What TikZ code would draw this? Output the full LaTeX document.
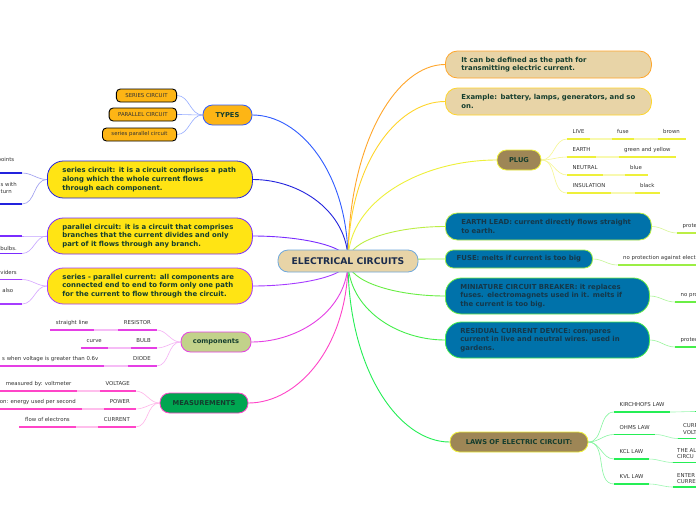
\documentclass[tikz,border=0pt]{standalone}
\usepackage{fontspec}
\setmainfont{DejaVu Sans}
\usetikzlibrary{calc,backgrounds}

\definecolor{tan}{HTML}{E8D4A7}
\definecolor{hubline}{HTML}{6FA8DC}
\definecolor{hubtext}{HTML}{1A2B4C}
\definecolor{txtgreen}{HTML}{143D2E}
\definecolor{bluetext}{HTML}{15384A}
\definecolor{orng}{HTML}{FDB515}
\definecolor{yel}{HTML}{FFE414}
\definecolor{olive}{HTML}{C2D28A}
\definecolor{grn}{HTML}{00A651}
\definecolor{brn}{HTML}{9E8656}
\definecolor{blu}{HTML}{0072AA}
\definecolor{leafgray}{HTML}{333333}
% branch colours
\definecolor{cTypes}{HTML}{2F5BFF}
\definecolor{cSer}{HTML}{2323DD}
\definecolor{cPar}{HTML}{7A2CFF}
\definecolor{cSp}{HTML}{A63CFF}
\definecolor{cComp}{HTML}{E53FE5}
\definecolor{cMeas}{HTML}{FF45C8}
\definecolor{cDef}{HTML}{FFA62B}
\definecolor{cEx}{HTML}{FFD52B}
\definecolor{cPlug}{HTML}{EEF03A}
\definecolor{cEl}{HTML}{BCEE45}
\definecolor{cFuse}{HTML}{9BEE45}
\definecolor{cMcb}{HTML}{6AEE45}
\definecolor{cRcd}{HTML}{45EE4A}
\definecolor{cLaw}{HTML}{25EE55}

\tikzset{
  hub/.style={draw=hubline, fill=tan, line width=0.8, rounded corners=10,
    minimum width=140, minimum height=22, inner sep=0, text=hubtext,
    font=\bfseries\fontsize{9.2}{10}\selectfont},
  bubble/.style={line width=0.8, inner ysep=0, text=txtgreen, align=left,
    font=\bfseries\fontsize{6.9}{8.7}\selectfont},
  pill/.style={bubble, rounded corners=9.5, minimum height=20, inner xsep=0,
    align=center, font=\bfseries\fontsize{6.7}{8}\selectfont},
  tbox/.style={fill=orng, draw=black, line width=0.9, rounded corners=4,
    minimum height=13, inner xsep=9, inner ysep=0, text=leafgray,
    font=\fontsize{5.4}{6}\selectfont},
  leaf/.style={font=\fontsize{5.4}{6.8}\selectfont, text=leafgray, inner xsep=5.5,
    inner ysep=0, text height=3.9, text depth=5,
    append after command={(\tikzlastnode.south west) edge[draw=#1, line width=1.6]
      (\tikzlastnode.south east)}},
  cut/.style={font=\fontsize{5.4}{6.8}\selectfont, text=leafgray, inner sep=0},
  ul/.style={line width=1.6},
  limb/.style={line width=0.9, to path={.. controls
    ($(\tikztostart)!.6!(\tikztostart|-\tikztotarget)$) and
    ($(\tikztotarget)!.5!(\tikztostart|-\tikztotarget)$) .. (\tikztotarget)}},
  twigL/.style={line width=0.6, out=180, in=0},
  twigR/.style={line width=0.6, out=0, in=180},
}

\begin{document}
\begin{tikzpicture}[x=1pt,y=-1pt]
  \useasboundingbox (0,0) rectangle (696,520);

  % centre
  \node[hub] (ec) at (348,261) {ELECTRICAL CIRCUITS};

  % left side
  \node[pill, fill=orng, draw=cTypes, minimum width=49] (types) at (227.5,115) {TYPES};
  \node[tbox, anchor=east] (ser) at (177,95.5) {SERIES CIRCUIT};
  \node[tbox, anchor=east] (par) at (177,114.5) {PARALLEL CIRCUIT};
  \node[tbox, anchor=east] (serpar) at (177,134.5) {series parallel circuit};

  \node[bubble, fill=yel, draw=cSer, rounded corners=16, minimum height=37,
    text width=175, inner xsep=15, anchor=west] (serc) at (47,179.5)
    {series circuit: it is a circuit comprises a path\\along which the whole current flows\\through each component.};
  \node[bubble, fill=yel, draw=cPar, rounded corners=16, minimum height=36,
    text width=175, inner xsep=15, anchor=west] (parc) at (47,236)
    {parallel circuit: it is a circuit that comprises\\branches that the current divides and only\\part of it flows through any branch.};
  \node[bubble, fill=yel, draw=cSp, rounded corners=16, minimum height=36,
    text width=175, inner xsep=15, anchor=west] (spc) at (47,286)
    {series - parallel current: all components are\\connected end to end to form only one path\\for the current to flow through the circuit.};

  \node[pill, fill=olive, draw=cComp, minimum width=70] (comp) at (216,342) {components};
  \node[pill, fill=grn, draw=cMeas, minimum width=88] (meas) at (204,403) {MEASUREMENTS};

  % right side
  \node[bubble, fill=tan, draw=cDef, rounded corners=12, minimum height=27,
    text width=174, inner xsep=16, anchor=west] (def) at (445,64.5)
    {It can be defined as the path for\\transmitting electric current.};
  \node[bubble, fill=tan, draw=cEx, rounded corners=12, minimum height=27,
    text width=174, inner xsep=16, anchor=west] (ex) at (445,101.5)
    {Example: battery, lamps, generators, and so\\on.};
  \node[pill, fill=brn, draw=cPlug, minimum width=44] (plug) at (519,160) {PLUG};

  \node[bubble, fill=blu, draw=cEl, text=bluetext, rounded corners=12, minimum height=27,
    text width=174, inner xsep=16, anchor=west] (el) at (445,226.5)
    {EARTH LEAD: current directly flows straight\\to earth.};
  \node[bubble, fill=blu, draw=cFuse, text=bluetext, rounded corners=8, minimum height=18,
    minimum width=147, align=center, anchor=west] (fuse) at (445,259)
    {FUSE: melts if current is too big};
  \node[bubble, fill=blu, draw=cMcb, text=bluetext, rounded corners=16, minimum height=36,
    text width=174, inner xsep=15, anchor=west] (mcb) at (445,296)
    {MINIATURE CIRCUIT BREAKER: it replaces\\fuses. electromagnets used in it. melts if\\the current is too big.};
  \node[bubble, fill=blu, draw=cRcd, text=bluetext, rounded corners=16, minimum height=36,
    text width=174, inner xsep=15, anchor=west] (rcd) at (445,340)
    {RESIDUAL CURRENT DEVICE: compares\\current in live and neutral wires. used in\\gardens.};
  \node[pill, fill=brn, draw=cPlug, minimum width=138] (laws) at (519,442) {LAWS OF ELECTRIC CIRCUIT:};

  % leaves of components and measurements
  \node[leaf=cComp, anchor=south east] (res) at (156.5,330) {RESISTOR};
  \node[leaf=cComp, anchor=south east] (bulb) at (156.5,348) {BULB};
  \node[leaf=cComp, anchor=south east] (diode) at (156.5,366) {DIODE};
  \node[leaf=cComp, anchor=south east] (sline) at (94,330) {straight line};
  \node[leaf=cComp, anchor=south east] (curve) at (107.5,348) {curve};
  \node[leaf=cComp, anchor=south east] (gate) at (104,366) {s when voltage is greater than 0.6v};

  \node[leaf=cMeas, anchor=south east] (volt) at (135.5,391) {VOLTAGE};
  \node[leaf=cMeas, anchor=south east] (pow) at (135.5,409) {POWER};
  \node[leaf=cMeas, anchor=south east] (cur) at (135.5,427) {CURRENT};
  \node[leaf=cMeas, anchor=south east] (vm) at (77,391) {measured by: voltmeter};
  \node[leaf=cMeas, anchor=south east] (epd) at (81.5,409) {on: energy used per second};
  \node[leaf=cMeas, anchor=south east] (flow) at (75.5,427) {flow of electrons};

  % leaves cut by the left edge
  \node[cut, anchor=east] (sc1) at (14.5,160) {points};
  \node[cut, anchor=north west, align=left] (sc2) at (0.5,182.5) {s with\\turn};
  \node[cut, anchor=east] (pc2) at (17,248) {bulbs.};
  \node[cut, anchor=east] (sp1) at (17,272.5) {viders};
  \node[cut, anchor=east] (sp2) at (13.5,290.5) {also};
  \coordinate (sc1u) at (22,173);
  \coordinate (sc2u) at (22,204);
  \coordinate (pc1u) at (22,236);
  \coordinate (pc2u) at (22,253.5);
  \coordinate (sp1u) at (22,279.5);
  \coordinate (sp2u) at (22,304);
  \draw[ul, cSer] (sc1u) -- (-4,173) (sc2u) -- (-4,204);
  \draw[ul, cPar] (pc1u) -- (-4,236) (pc2u) -- (-4,253.5);
  \draw[ul, cSp] (sp1u) -- (-4,279.5) (sp2u) -- (-4,304);

  % plug leaves
  \node[leaf=cPlug, anchor=south west] (live) at (567,139) {LIVE};
  \node[leaf=cPlug, anchor=south west] (lfuse) at (611.5,139) {fuse};
  \node[leaf=cPlug, anchor=south west] (brown) at (657.5,139) {brown};
  \node[leaf=cPlug, anchor=south west] (earth) at (567,157) {EARTH};
  \node[leaf=cPlug, anchor=south west] (gy) at (618.5,157) {green and yellow};
  \node[leaf=cPlug, anchor=south west] (neut) at (567,175) {NEUTRAL};
  \node[leaf=cPlug, anchor=south west] (blue) at (624.5,175) {blue};
  \node[leaf=cPlug, anchor=south west] (ins) at (567,193) {INSULATION};
  \node[leaf=cPlug, anchor=south west] (black) at (634.5,193) {black};

  % leaves cut by the right edge
  \node[leaf=cEl, anchor=south west] (elp) at (677,233) {prote};
  \node[leaf=cFuse, anchor=south west] (fusep) at (617.5,265) {no protection against elect};
  \node[leaf=cMcb, anchor=south west] (mcbp) at (675,302) {no pro};
  \node[leaf=cRcd, anchor=south west] (rcdp) at (675,347) {protec};

  % laws leaves
  \node[leaf=cLaw, anchor=south west] (kirch) at (614,412) {KIRCHHOFS LAW};
  \node[leaf=cLaw, anchor=south west] (ohm) at (614,434.5) {OHMS LAW};
  \node[leaf=cLaw, anchor=south west] (kcl) at (614,459) {KCL LAW};
  \node[leaf=cLaw, anchor=south west] (kvl) at (614,484) {KVL LAW};
  \coordinate (kirchu) at (695,411.5);
  \coordinate (ohmu) at (678,438.5);
  \coordinate (kclu) at (673,462.5);
  \coordinate (kvlu) at (673,487);
  \node[cut, anchor=north west, align=left] (ohmt) at (683,423.5) {CURR\\VOLT};
  \node[cut, anchor=north west, align=left] (kclt) at (677,448) {THE AL\\CIRCU};
  \node[cut, anchor=north west, align=left] (kvlt) at (677,473) {ENTER\\CURRE};
  \draw[ul, cLaw] (kirchu) -- ++(8,0) (ohmu) -- ++(25,0) (kclu) -- ++(30,0) (kvlu) -- ++(30,0);

  \begin{pgfonlayer}{background}
    \fill[white] (0,0) rectangle (696,520);
    % main branches
    \draw[limb, cTypes] (ec.center) to (types.east);
    \draw[limb, cSer] (ec.center) to (serc.east);
    \draw[limb, cPar] (ec.center) to (parc.east);
    \draw[limb, cSp] (ec.center) to (spc.east);
    \draw[limb, cComp] (ec.center) to (comp.east);
    \draw[limb, cMeas] (ec.center) to (meas.east);
    \draw[limb, cDef] (ec.center) to (def.west);
    \draw[limb, cEx] (ec.center) to (ex.west);
    \draw[limb, cPlug] (ec.center) to (plug.west);
    \draw[limb, cEl] (ec.center) to (el.west);
    \draw[limb, cFuse] (ec.center) to (fuse.west);
    \draw[limb, cMcb] (ec.center) to (mcb.west);
    \draw[limb, cRcd] (ec.center) to (rcd.west);
    \draw[limb, cLaw] (ec.center) to (laws.west);
    % twigs, left
    \foreach \n in {ser, par, serpar}
      \draw[twigL, cTypes!50!white] (types.west) to (\n.east);
    \foreach \n in {sc1u, sc2u}
      \draw[twigL, cSer!45!white] (serc.west) to (\n);
    \foreach \n in {pc1u, pc2u}
      \draw[twigL, cPar!45!white] (parc.west) to (\n);
    \foreach \n in {sp1u, sp2u}
      \draw[twigL, cSp!45!white] (spc.west) to (\n);
    \foreach \n in {res, bulb, diode}
      \draw[twigL, cComp!40!white] (comp.west) to (\n.south east);
    \foreach \n in {volt, pow, cur}
      \draw[twigL, cMeas!40!white] (meas.west) to (\n.south east);
    \draw[cComp!35!white, line width=1.2] (res.south west) -- (sline.south east)
      (bulb.south west) -- (curve.south east) (diode.south west) -- (gate.south east);
    \draw[cMeas!35!white, line width=1.2] (volt.south west) -- (vm.south east)
      (pow.south west) -- (epd.south east) (cur.south west) -- (flow.south east);
    % twigs, right
    \foreach \n in {live, earth, neut, ins}
      \draw[twigR, cPlug!55!white] (plug.east) to (\n.south west);
    \draw[cPlug!40!white, line width=1.2] (live.south east) -- (lfuse.south west)
      (lfuse.south east) -- (brown.south west) (earth.south east) -- (gy.south west)
      (neut.south east) -- (blue.south west) (ins.south east) -- (black.south west);
    \draw[twigR, cEl!55!white] (el.east) to (elp.south west);
    \draw[twigR, cFuse!55!white] (fuse.east) to (fusep.south west);
    \draw[twigR, cMcb!55!white] (mcb.east) to (mcbp.south west);
    \draw[twigR, cRcd!55!white] (rcd.east) to (rcdp.south west);
    \foreach \n in {kirch, ohm, kcl, kvl}
      \draw[twigR, cLaw!55!white] (laws.east) to (\n.south west);
    \draw[twigR, cLaw!45!white] (kirch.south east) to (kirchu);
    \draw[twigR, cLaw!45!white] (ohm.south east) to (ohmu);
    \draw[twigR, cLaw!45!white] (kcl.south east) to (kclu);
    \draw[twigR, cLaw!45!white] (kvl.south east) to (kvlu);
  \end{pgfonlayer}
\end{tikzpicture}
\end{document}
